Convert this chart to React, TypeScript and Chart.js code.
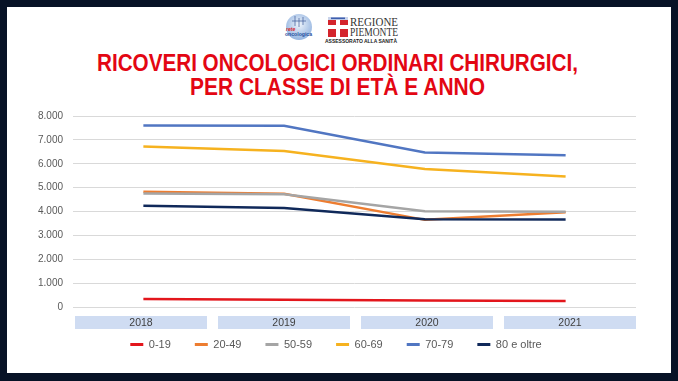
import React, { useEffect, useRef } from "react";
import { Chart, registerables } from "chart.js";

Chart.register(...registerables);

// ---- data ----
const categories = ["2018", "2019", "2020", "2021"];
const seriesLabels = ["0-19", "20-49", "50-59", "60-69", "70-79", "80 e oltre"];
const values0_19 = [330, 300, 270, 250];
const values20_49 = [4830, 4740, 3650, 3970];
const values50_59 = [4750, 4720, 4010, 3990];
const values60_69 = [6720, 6530, 5780, 5470];
const values70_79 = [7600, 7590, 6470, 6360];
const values80 = [4240, 4150, 3680, 3670];
const seriesColors = ["#e3161c", "#ed7d31", "#a5a5a5", "#f6b21f", "#5176c2", "#10295a"];
const yMin = 0;
const yMax = 8000;
const yStep = 1000;
const titleLines = ["RICOVERI ONCOLOGICI ORDINARI CHIRURGICI,", "PER CLASSE DI ETÀ E ANNO"];

const FONT = "'Liberation Sans', Arial, sans-serif";

function formatIt(v: number): string {
  return String(v).replace(/\B(?=(\d{3})+(?!\d))/g, ".");
}

const categoryBoxes = {
  id: "categoryBoxes",
  beforeDraw(chart: any) {
    const { ctx, chartArea } = chart;
    const xs = chart.scales.x;
    const n = categories.length;
    const gap = 11;
    const start = xs.left + 2;
    const end = xs.right;
    const w = (end - start - gap * (n - 1)) / n;
    ctx.save();
    ctx.font = `10.5px ${FONT}`;
    ctx.textAlign = "center";
    ctx.textBaseline = "middle";
    for (let i = 0; i < n; i++) {
      const x0 = start + i * (w + gap);
      ctx.fillStyle = "#cfdcf2";
      ctx.fillRect(x0, chartArea.bottom + 9, w, 13);
      ctx.fillStyle = "#404040";
      ctx.fillText(categories[i], x0 + w / 2, chartArea.bottom + 16);
    }
    ctx.restore();
  },
};

export default function App() {
  const canvasRef = useRef<HTMLCanvasElement | null>(null);

  useEffect(() => {
    const allValues = [values0_19, values20_49, values50_59, values60_69, values70_79, values80];
    const n = allValues.length;
    const chart = new Chart(canvasRef.current as HTMLCanvasElement, {
      type: "line",
      data: {
        labels: categories,
        datasets: allValues.map((vals, i) => ({
          label: seriesLabels[i],
          data: vals,
          borderColor: seriesColors[i],
          backgroundColor: seriesColors[i],
          borderWidth: 2.5,
          pointRadius: 0,
          fill: false,
          tension: 0,
          order: n - i,
        })),
      },
      options: {
        responsive: false,
        animation: false,
        events: [],
        layout: { padding: { top: 15, bottom: 0, left: 0, right: 0 } },
        plugins: {
          tooltip: { enabled: false },
          legend: {
            position: "bottom",
            labels: {
              boxWidth: 13,
              boxHeight: 3,
              padding: 24,
              color: "#595959",
              font: { family: FONT, size: 11 },
              generateLabels: (c: any) =>
                Chart.defaults.plugins.legend.labels
                  .generateLabels(c)
                  .map((l: any) => ({
                    ...l,
                    lineWidth: 0,
                    fillStyle: l.strokeStyle,
                  }))
                  .sort((a: any, b: any) => a.datasetIndex - b.datasetIndex),
            },
          },
        },
        scales: {
          x: {
            type: "category",
            offset: true,
            grid: { display: false },
            border: { display: false },
            ticks: { display: false },
            afterFit: (s: any) => {
              s.height = 8;
            },
          },
          y: {
            min: yMin,
            max: yMax,
            ticks: {
              stepSize: yStep,
              padding: 10,
              color: "#595959",
              font: { family: FONT, size: 10 },
              callback: (v: any) => formatIt(Number(v)),
            },
            grid: { color: "#d9d9d9", lineWidth: 1, drawTicks: false },
            border: { display: false },
            afterFit: (s: any) => {
              s.width = 73;
            },
          },
          yRight: {
            position: "right",
            display: true,
            grid: { display: false },
            border: { display: false },
            ticks: { display: false },
            afterFit: (s: any) => {
              s.width = 36;
            },
          },
        },
      },
      plugins: [categoryBoxes],
    } as any);
    return () => chart.destroy();
  }, []);

  return (
    <div
      style={{
        position: "fixed",
        left: 0,
        top: 0,
        width: 678,
        height: 381,
        background: "#071226",
        overflow: "hidden",
      }}
    >
      <div
        style={{
          position: "absolute",
          left: 7,
          top: 7,
          width: 664,
          height: 366,
          background: "#ffffff",
        }}
      />
      <svg
        width={678}
        height={381}
        style={{ position: "absolute", left: 0, top: 0 }}
        xmlns="http://www.w3.org/2000/svg"
      >
        <defs>
          <radialGradient id="rg" cx="50%" cy="40%" r="60%">
            <stop offset="0%" stopColor="#eef4fb" />
            <stop offset="100%" stopColor="#94b4e0" />
          </radialGradient>
        </defs>
        {/* rete oncologica logo */}
        <circle cx={299} cy={27} r={13} fill="url(#rg)" />
        <path d="M295 16 L295 26 M299 18 L299 27 M303 17 L303 25 M292 21 L306 21" stroke="#3d5a99" strokeWidth={0.7} fill="none" />
        <text x={286} y={31} fontFamily={FONT} fontSize={5} fontWeight="bold" fontStyle="italic" fill="#d9262c">rete</text>
        <text x={285} y={36} fontFamily={FONT} fontSize={5.5} fontWeight="bold" fill="#1f4e9c" textLength={27} lengthAdjust="spacingAndGlyphs">oncologica</text>
        {/* Regione Piemonte emblem */}
        <rect x={328} y={17} width={20} height={20} fill="#d4242c" />
        <rect x={336} y={17} width={4} height={20} fill="#ffffff" />
        <rect x={328} y={25} width={20} height={4} fill="#ffffff" />
        <rect x={328} y={17} width={20} height={3} fill="#c9d3ea" />
        <rect x={331} y={17.5} width={14} height={1.6} fill="#3e5fae" />
        <text x={350} y={26} fontFamily="'Liberation Serif', serif" fontSize={12} fill="#333333" textLength={48} lengthAdjust="spacingAndGlyphs">REGIONE</text>
        <text x={350} y={36} fontFamily="'Liberation Serif', serif" fontSize={12} fill="#333333" textLength={48} lengthAdjust="spacingAndGlyphs">PIEMONTE</text>
        <text x={325} y={43} fontFamily={FONT} fontSize={5} fontWeight="bold" fill="#222222" textLength={72} lengthAdjust="spacingAndGlyphs">ASSESSORATO ALLA SANITÀ</text>
        {/* title */}
        <text x={337.5} y={71} textAnchor="middle" fontFamily={FONT} fontSize={24} fontWeight="bold" fill="#e30613" textLength={481} lengthAdjust="spacingAndGlyphs">{titleLines[0]}</text>
        <text x={337.5} y={95} textAnchor="middle" fontFamily={FONT} fontSize={24} fontWeight="bold" fill="#e30613" textLength={295} lengthAdjust="spacingAndGlyphs">{titleLines[1]}</text>
      </svg>
      <div style={{ position: "absolute", left: 0, top: 100, width: 672, height: 260 }}>
        <canvas ref={canvasRef} width={672} height={260} style={{ display: "block" }} />
      </div>
    </div>
  );
}
